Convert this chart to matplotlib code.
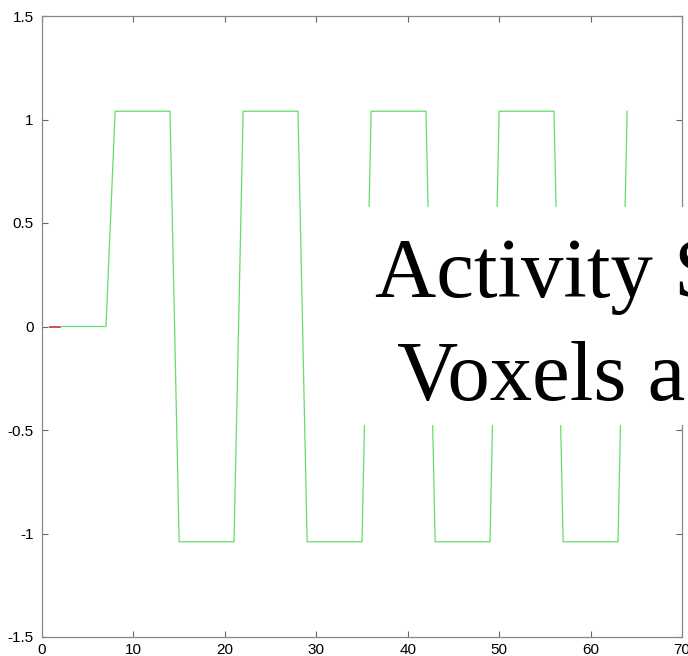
import numpy as np
import matplotlib.pyplot as plt
from matplotlib.patches import Rectangle

# signal corners (time, value)
green_t = [2, 7, 8, 14, 15, 21, 22, 28, 29, 35, 36, 42, 43, 49, 50, 56, 57, 63, 64]
green_v = [0, 0, 1.04, 1.04, -1.04, -1.04, 1.04, 1.04, -1.04, -1.04,
           1.04, 1.04, -1.04, -1.04, 1.04, 1.04, -1.04, -1.04, 1.04]
red_t = [0.9, 2]
red_v = [0, 0]

xticks = [0, 10, 20, 30, 40, 50, 60, 70]
yticks = [-1.5, -1, -0.5, 0, 0.5, 1, 1.5]
ylabels = ["-1.5", "-1", "-0.5", "0", "0.5", "1", "1.5"]

W, H = 688, 656
fig = plt.figure(figsize=(W / 100, H / 100), dpi=100)
ax = fig.add_axes([42 / W, 1 - 637 / H, 640 / W, 621 / H])

ax.plot(red_t, red_v, color="#d04040", lw=1.3)
ax.plot(green_t, green_v, color="#66dd66", lw=0.9)

ax.set_xlim(0, 70)
ax.set_ylim(-1.5, 1.5)
ax.set_xticks(xticks)
ax.set_xticklabels([str(t) for t in xticks])
ax.set_yticks(yticks)
ax.set_yticklabels(ylabels)

for s in ax.spines.values():
    s.set_color("#888888")
    s.set_linewidth(0.9)
ax.tick_params(direction="in", top=True, right=True, length=4,
               width=0.8, color="#666666", labelsize=11)
ax.tick_params(axis="y", pad=6)
ax.tick_params(axis="x", pad=4)
for lab in ax.get_xticklabels() + ax.get_yticklabels():
    lab.set_fontfamily("Liberation Sans")

# white box over the right part of the plot
ax.add_patch(Rectangle((360 / W, 1 - 425 / H), 1, 218 / H,
                       transform=fig.transFigure, facecolor="white",
                       edgecolor="none", clip_on=False, zorder=5))

fig.text(375 / W, 1 - 297 / H, "Activity S", fontsize=61,
         family="Liberation Serif", va="baseline", ha="left", zorder=6)
fig.text(397 / W, 1 - 400 / H, "Voxels a", fontsize=61,
         family="Liberation Serif", va="baseline", ha="left", zorder=6)

fig.savefig("out.png", dpi=100)
